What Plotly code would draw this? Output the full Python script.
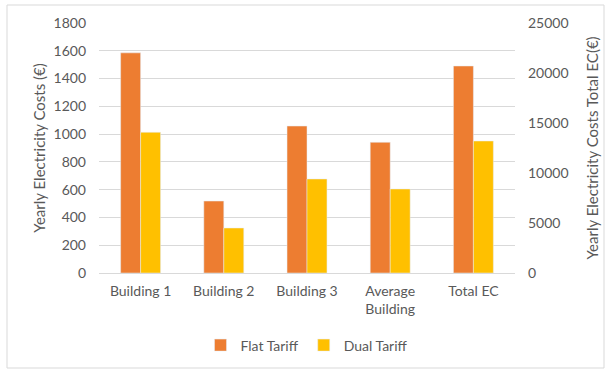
import plotly.graph_objects as go

# Building-level costs (left axis) and community total (right axis)
buildings = ["Building 1", "Building 2", "Building 3", "Average<br>Building"]
total_label = ["Total EC"]
flat_buildings = [1585, 518, 1058, 941]
dual_buildings = [1013, 324, 677, 605]
flat_total = [20700]
dual_total = [13200]

FLAT_COLOR = "#ED7D31"
DUAL_COLOR = "#FFC000"
TEXT_COLOR = "#595959"
GRID_COLOR = "#D9D9D9"
FONT = "Lato, Open Sans, sans-serif"

categories = buildings + total_label
bar_w = 0.24

fig = go.Figure()
fig.add_trace(go.Bar(x=buildings, y=flat_buildings, name="Flat Tariff",
                     marker_color=FLAT_COLOR, width=bar_w, offset=-bar_w,
                     legendgroup="flat", yaxis="y"))
fig.add_trace(go.Bar(x=buildings, y=dual_buildings, name="Dual Tariff",
                     marker_color=DUAL_COLOR, width=bar_w, offset=0,
                     legendgroup="dual", yaxis="y"))
fig.add_trace(go.Bar(x=total_label, y=flat_total, name="Flat Tariff",
                     marker_color=FLAT_COLOR, width=bar_w, offset=-bar_w,
                     legendgroup="flat", showlegend=False, yaxis="y2"))
fig.add_trace(go.Bar(x=total_label, y=dual_total, name="Dual Tariff",
                     marker_color=DUAL_COLOR, width=bar_w, offset=0,
                     legendgroup="dual", showlegend=False, yaxis="y2"))

fig.update_layout(
    width=607, height=370,
    margin=dict(l=99, r=92, t=23, b=97, autoexpand=False),
    paper_bgcolor="white", plot_bgcolor="white",
    font=dict(family=FONT, size=14, color=TEXT_COLOR),
    barmode="overlay",
    xaxis=dict(categoryorder="array", categoryarray=categories,
               showgrid=False, showline=True, linecolor=GRID_COLOR,
               ticks="", ticklabelstandoff=5, automargin=False,
               tickfont=dict(size=14, color=TEXT_COLOR)),
    yaxis=dict(range=[0, 1800], dtick=200, showgrid=True, gridcolor=GRID_COLOR,
               zeroline=False, showline=False, ticks="", ticklabelstandoff=12,
               automargin=False,
               title=dict(text="Yearly Electricity Costs (€)", standoff=4,
                          font=dict(size=15, color=TEXT_COLOR))),
    yaxis2=dict(range=[0, 25000], dtick=5000, tickformat="d",
                overlaying="y", side="right", automargin=False,
                showgrid=False, zeroline=False, showline=False, ticks="",
                ticklabelstandoff=12,
                title=dict(text="Yearly Electricity Costs Total EC(€)", standoff=19,
                           font=dict(size=15, color=TEXT_COLOR))),
    legend=dict(orientation="h", x=0.5, xanchor="center", y=-0.29, yanchor="middle",
                font=dict(size=14, color=TEXT_COLOR), traceorder="normal",
                itemwidth=30),
    shapes=[dict(type="rect", xref="paper", yref="paper",
                 x0=(7 - 99) / 416, x1=(604 - 99) / 416,
                 y0=(273 - 368) / 250, y1=(273 - 5) / 250,
                 line=dict(color=GRID_COLOR, width=1), fillcolor="rgba(0,0,0,0)",
                 layer="below")],
)

fig.write_html("out.html")
